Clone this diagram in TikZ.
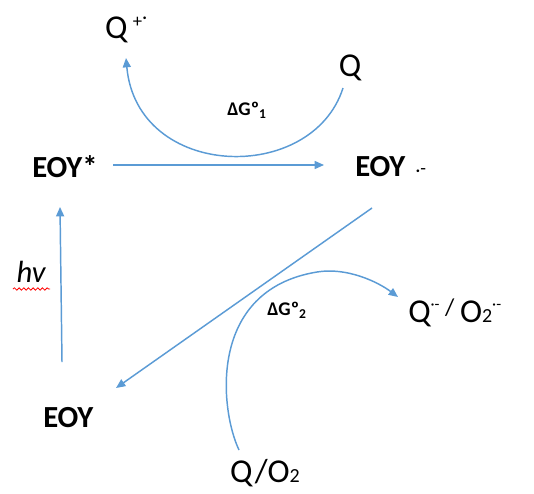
\documentclass[tikz,border=0pt]{standalone}
\usepackage{fontspec}
\setmainfont{Carlito}
\usetikzlibrary{arrows.meta,decorations.pathmorphing}
\definecolor{ablue}{HTML}{5B9BD5}
\begin{document}
\begin{tikzpicture}[x=0.75pt,y=-0.75pt,
  conn/.style={draw=ablue,line width=1.1pt,-{Triangle[length=7pt,width=6pt]}},
  big/.style={font=\fontsize{25}{28}\selectfont,inner sep=0pt},
  bold/.style={font=\fontsize{23}{26}\selectfont\bfseries,inner sep=0pt},
  lab/.style={font=\fontsize{14.5}{16}\selectfont\bfseries,inner sep=0pt}]
\useasboundingbox (0,0) rectangle (534,493);
\node[big] (qp) at (126,30) {Q\,\raisebox{0.35em}{\fontsize{14}{14}\selectfont +\raisebox{0.2em}{·}}};
\node[big] (q) at (350,68) {Q};
\node[lab] (dg1) at (247,110) {ΔGº\textsubscript{1}};
\node[bold,anchor=west] (eoys) at (32,167) {EOY*};
\node[bold,anchor=west] (eoyr) at (355,167) {EOY\,\,{\mdseries\fontsize{14}{14}\selectfont ·\raisebox{0.12em}{-}}};
\node[big,font=\fontsize{23}{26}\selectfont\itshape] (hv) at (31,272) {hv};
\draw[red,line width=0.6pt,decorate,decoration={snake,amplitude=0.9pt,segment length=3.5pt}] (13,289) -- (50,289);
\node[bold,anchor=west] (eoy) at (43,418) {EOY};
\node[lab] (dg2) at (287,310) {ΔGº\textsubscript{2}};
\node[big,anchor=west] (qr) at (408,313) {Q\raisebox{0.4em}{\fontsize{12}{12}\selectfont ·-}\,\raisebox{0.2em}{\fontsize{18}{18}\selectfont /}\,O{\fontsize{15}{15}\selectfont 2}\raisebox{0.4em}{\fontsize{12}{12}\selectfont ·-}};
\node[big] (qo) at (265,473) {Q/O{\fontsize{15}{15}\selectfont 2}};
% connectors
\coordinate (c1s) at (343,88);
\coordinate (c1e) at (126,58);
\draw[conn] (c1s) .. controls (312,185) and (137,180) .. (c1e);
\coordinate (hs) at (113,165);
\coordinate (he) at (324,165);
\draw[conn] (hs) -- (he);
\coordinate (ds) at (372,208);
\coordinate (de) at (116,388);
\draw[conn] (ds) -- (de);
\coordinate (vs) at (62,362);
\coordinate (ve) at (60,207);
\draw[conn] (vs) -- (ve);
\coordinate (c2s) at (239,450);
\coordinate (c2m) at (317,272);
\coordinate (c2e) at (398,297);
\draw[conn] (c2s) .. controls (220,410) and (207,290) .. (c2m) .. controls (347,267) and (378,282) .. (c2e);
\end{tikzpicture}
\end{document}
